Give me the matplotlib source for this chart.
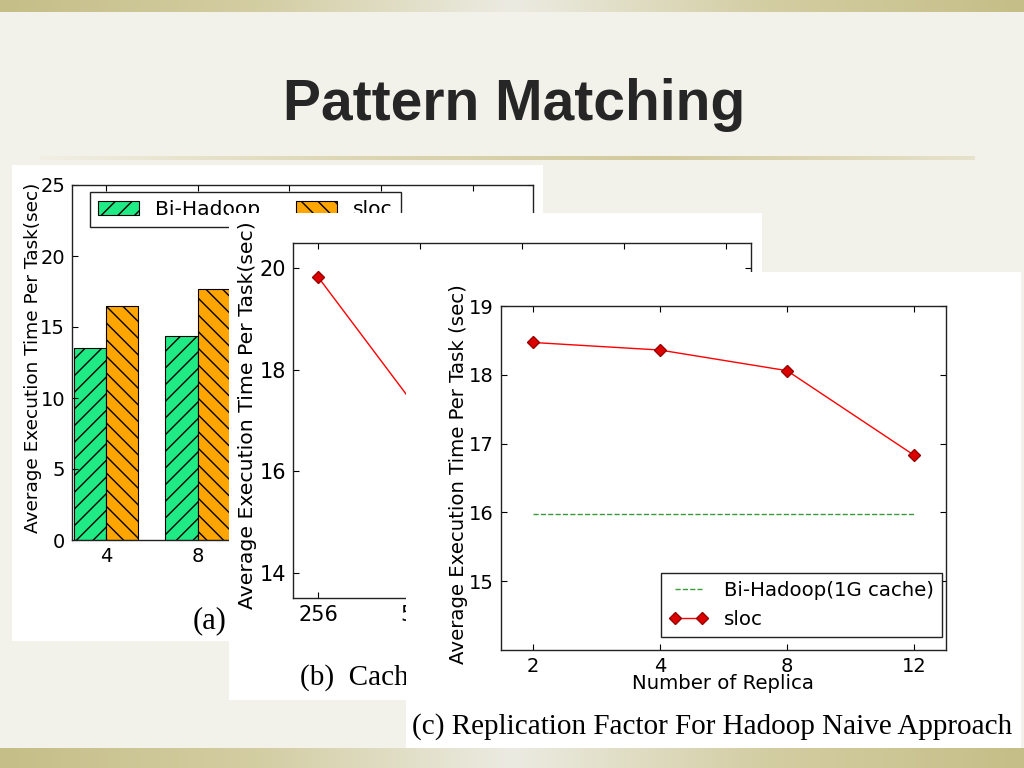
import matplotlib
matplotlib.use("Agg")
import matplotlib.pyplot as plt
import numpy as np
from matplotlib.patches import Rectangle
from matplotlib.colors import LinearSegmentedColormap

# ---------- DATA ----------
# (a) bar chart, only the first two groups are visible on the slide
a_groups = ["4", "8"]
a_bihadoop = [13.55, 14.35]
a_sloc = [16.46, 17.66]

# (b) cache size line, the rest is covered by panel (c)
b_cache = ["256", "512"]
b_sloc = [19.82, 17.15]

# (c) replication factor
c_replica = ["2", "4", "8", "12"]
c_sloc = [18.47, 18.36, 18.06, 16.83]
c_bihadoop = [15.98, 15.98, 15.98, 15.98]

# ---------- LAYOUT HELPERS ----------
W, H = 1024, 768
SLIDE_BG = "#F3F2EA"
GREEN = "#1FEA84"
ORANGE = "#FFA500"


def box(x0, y0, x1, y1):
    """pixel box (top-left origin) -> figure fraction [l, b, w, h]"""
    return [x0 / W, 1 - y1 / H, (x1 - x0) / W, (y1 - y0) / H]


def band(fig, rect, colors, z=0.5):
    ax = fig.add_axes(rect, zorder=z)
    cmap = LinearSegmentedColormap.from_list("band", colors)
    ax.imshow(np.linspace(0, 1, 256)[None, :], aspect="auto", cmap=cmap,
              extent=[0, 1, 0, 1])
    ax.set_axis_off()
    return ax


def panel(fig, x0, y0, x1, y1, z):
    fig.add_artist(Rectangle((x0 / W, 1 - y1 / H), (x1 - x0) / W, (y1 - y0) / H,
                             transform=fig.transFigure, facecolor="white",
                             edgecolor="none", zorder=z))


def style_axes(ax, size):
    ax.tick_params(direction="in", top=True, right=True, length=4,
                   labelsize=size, pad=5)
    for sp in ax.spines.values():
        sp.set_linewidth(1.0)
        sp.set_color("#222222")


fig = plt.figure(figsize=(W / 100, H / 100), dpi=100)
fig.patch.set_facecolor(SLIDE_BG)

# top / bottom bands and divider line
olive = "#C6BE88"
band(fig, box(0, 0, 1024, 12), [olive, "#D3CDA2", "#ECEBE2", "#D3CDA2", olive])
band(fig, box(0, 748, 1024, 768), [olive, "#D3CDA2", "#ECEBE2", "#D3CDA2", olive])
band(fig, box(40, 156, 975, 160), ["#F1EFE4", "#DCD6B2", "#D2CA9C", "#E6E2CB"])

fig.text(514 / W, 1 - 120 / H, "Pattern Matching", ha="center", va="baseline",
         fontsize=41, fontweight="bold", color="#262626",
         family="Liberation Sans")

# ---------- PANEL (a) ----------
panel(fig, 12, 165, 543, 641, 1)
ax_a = fig.add_axes(box(72, 185, 533, 540), zorder=2)
pos = np.arange(len(a_groups))
w = 0.35
ax_a.bar(pos - w, a_bihadoop, w, align="edge", color=GREEN, edgecolor="black",
         hatch="//", linewidth=0.8, label="Bi-Hadoop")
ax_a.bar(pos, a_sloc, w, align="edge", color=ORANGE, edgecolor="black",
         hatch="\\\\", linewidth=0.8, label="sloc")
ax_a.set_xlim(-0.37, 4.66)
ax_a.set_ylim(0, 25)
ax_a.set_yticks([0, 5, 10, 15, 20, 25])
ax_a.set_xticks(range(5))
ax_a.set_xticklabels(a_groups + ["", "", ""])
style_axes(ax_a, 14)
ax_a.set_ylabel("Average Execution Time Per Task(sec)", fontsize=13.3)
ax_a.yaxis.set_label_coords(-0.065, 0.514)
ax_a.legend(loc="upper left", bbox_to_anchor=(0.039, 0.98), borderaxespad=0,
            ncol=2, fontsize=14.6, fancybox=False, edgecolor="#222222",
            framealpha=1, columnspacing=1.8)
fig.text(193 / W, 1 - 621 / H, "(a)", ha="left", va="center", fontsize=22,
         family="Liberation Serif", zorder=2)

# ---------- PANEL (b) ----------
panel(fig, 229, 213, 762, 700, 3)
ax_b = fig.add_axes(box(293, 243, 751, 598), zorder=4)
ax_b.plot(range(len(b_sloc)), b_sloc, color="red", linewidth=1.0, marker="D",
          markersize=6, markerfacecolor="#DD0000", markeredgecolor="#990000")
ax_b.set_xlim(-0.25, 4.25)
ax_b.set_ylim(13.5, 20.5)
ax_b.set_yticks([14, 16, 18, 20])
ax_b.set_xticks(range(5))
ax_b.set_xticklabels(b_cache + ["", "", ""])
style_axes(ax_b, 15)
ax_b.set_ylabel("Average Execution Time Per Task(sec)", fontsize=14.7)
ax_b.yaxis.set_label_coords(-0.079, 0.515)
fig.text(300 / W, 1 - 678 / H, "(b)  Cache Size", ha="left", va="center",
         fontsize=21, family="Liberation Serif", zorder=4)

# ---------- PANEL (c) ----------
panel(fig, 406, 272, 1021, 748, 5)
ax_c = fig.add_axes(box(501, 306, 946, 650), zorder=6)
xc = np.arange(len(c_replica))
ax_c.plot(xc, c_bihadoop, color="#3A9A3A", linestyle="--", linewidth=1.0,
          label="Bi-Hadoop(1G cache)")
ax_c.plot(xc, c_sloc, color="red", linewidth=1.0, marker="D", markersize=6,
          markerfacecolor="#DD0000", markeredgecolor="#990000", label="sloc")
ax_c.set_xlim(-0.25, 3.25)
ax_c.set_ylim(14, 19)
ax_c.set_yticks([15, 16, 17, 18, 19])
ax_c.set_xticks(xc)
ax_c.set_xticklabels(c_replica)
style_axes(ax_c, 14)
ax_c.set_ylabel("Average Execution Time Per Task (sec)", fontsize=14.2)
ax_c.yaxis.set_label_coords(-0.074, 0.512)
ax_c.set_xlabel("Number of Replica", fontsize=14.2)
ax_c.xaxis.set_label_coords(0.499, -0.07)
ax_c.legend(loc="lower right", bbox_to_anchor=(0.991, 0.038), borderaxespad=0,
            numpoints=2, fontsize=14.2, fancybox=False, edgecolor="#222222",
            framealpha=1)
fig.text(412 / W, 1 - 727 / H, "(c) Replication Factor For Hadoop Naive Approach",
         ha="left", va="center", fontsize=21, family="Liberation Serif", zorder=6)

fig.savefig("out.png", dpi=100, facecolor=fig.get_facecolor())
